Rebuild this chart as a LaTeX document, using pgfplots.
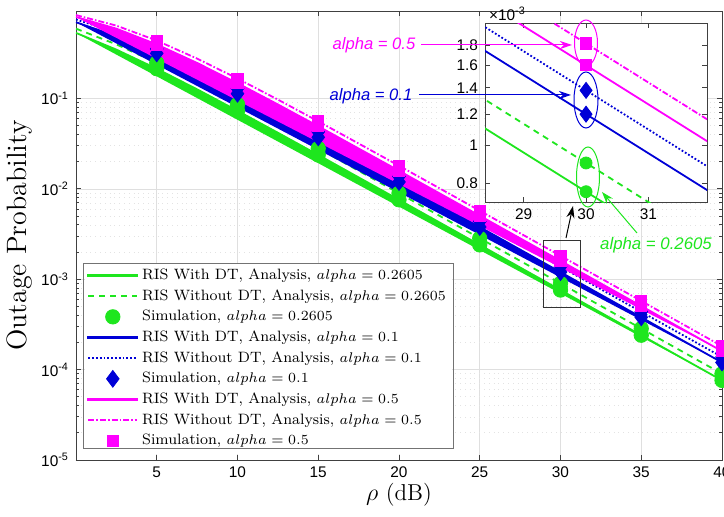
\documentclass[border=0pt]{standalone}
\usepackage{pgfplots}
\pgfplotsset{compat=1.18}
\usepackage{pgfplotstable}
\usepackage{fontspec}
\newfontfamily\arial{Liberation Sans}
\usetikzlibrary{arrows.meta}

\definecolor{cgreen}{RGB}{30,230,30}
\definecolor{cblue}{RGB}{0,0,215}
\definecolor{cmag}{RGB}{255,0,255}

% analysis: x, with DT, without DT
\pgfplotstableread{
x     with      without
0     0.5323    0.5934
2.5   0.3478    0.3971
5     0.2136    0.2477
7.5   0.1264    0.1479
10    0.07318   0.08607
12.5  0.04184   0.04935
15    0.02375   0.02806
20    0.007571  0.008960
25    0.002400  0.002842
30    7.597e-4  8.996e-4
35    2.403e-4  2.846e-4
40    7.60e-5   9.00e-5
}\anagreen
\pgfplotstableread{
x     with      without
0     0.6988    0.7484
2.5   0.4907    0.5398
5     0.3158    0.3536
7.5   0.1922    0.2176
10    0.1131    0.1289
12.5  0.06526   0.07467
15    0.03724   0.04270
20    0.01193   0.01371
25    0.003788  0.004354
30    1.199e-3  1.379e-3
35    3.794e-4  4.363e-4
40    1.20e-4   1.38e-4
}\anablue
\pgfplotstableread{
x     with      without
0     0.7981    0.8380
2.5   0.5933    0.6407
5     0.3970    0.4376
7.5   0.2476    0.2765
10    0.1479    0.1664
12.5  0.08605   0.09729
15    0.04934   0.05593
20    0.01587   0.01804
25    0.005047  0.005739
30    1.599e-3  1.818e-3
35    5.058e-4  5.754e-4
40    1.60e-4   1.82e-4
}\anamag
% simulation points
\pgfplotstableread{
x   y
5   0.2136
5   0.2477
10  0.07318
10  0.08607
15  0.02375
15  0.02806
20  0.007571
20  0.008960
25  0.002400
25  0.002842
30  7.597e-4
30  8.996e-4
35  2.403e-4
35  2.846e-4
40  7.6e-5
40  9.0e-5
}\simgreen
\pgfplotstableread{
x   y
5   0.3158
5   0.3536
10  0.1131
10  0.1289
15  0.03724
15  0.04270
20  0.01193
20  0.01371
25  0.003788
25  0.004354
30  1.199e-3
30  1.379e-3
35  3.794e-4
35  4.363e-4
40  1.2e-4
40  1.38e-4
}\simblue
\pgfplotstableread{
x   y
5   0.3970
5   0.4376
10  0.1479
10  0.1664
15  0.04934
15  0.05593
20  0.01587
20  0.01804
25  0.005047
25  0.005739
30  1.599e-3
30  1.818e-3
35  5.058e-4
35  5.754e-4
40  1.6e-4
40  1.82e-4
}\simmag

\pgfplotsset{
  tickfont/.style={font=\arial\fontsize{7.7}{9}\selectfont},
  simleg/.style={legend image code/.code={\draw[##1] plot coordinates {(0.43cm,0cm)};}},
  % solid samples as a thin filled bar
  solidleg/.style={legend image code/.code={\fill[##1] (0cm,-0.45pt) rectangle (0.86cm,0.45pt);}},
}

\begin{document}
\begin{tikzpicture}
\useasboundingbox (0,0) rectangle (362pt,-258.5pt);

% main axis
\begin{axis}[
  at={(38pt,-230pt)}, anchor=south west,
  scale only axis, width=323pt, height=224.5pt,
  xmin=0, xmax=40, ymode=log, ymin=1e-5, ymax=0.93,
  xtick={5,10,...,40},
  xticklabels={5,10,15,20,25,30,35,40},
  ytick={1e-5,1e-4,1e-3,1e-2,1e-1},
  yticklabels={10\textsuperscript{-5},10\textsuperscript{-4},10\textsuperscript{-3},10\textsuperscript{-2},10\textsuperscript{-1}},
  ticklabel style={tickfont},
  tick align=inside, major tick length=2.5pt, minor tick length=1.5pt,
  tick style={black!75, line width=0.4pt},
  axis line style={black!75, line width=0.4pt},
  grid=both,
  major grid style={gray!25, line width=0.35pt},
  minor grid style={gray!22, dotted, line width=0.35pt},
  minor x tick num=0,
  xlabel={$\rho$ (dB)},
  ylabel={Outage Probability},
  xlabel style={font=\fontsize{11.5}{13}\selectfont, at={(axis description cs:0.5,-0.078)}, anchor=center},
  ylabel style={font=\fontsize{14}{16}\selectfont, at={(axis description cs:-0.0867,0.5)}, anchor=center},
  legend cell align=left,
  legend style={at={(axis description cs:0.014,0.0134)}, anchor=south west,
    draw=none, fill=white, inner sep=1pt, row sep=-0.5pt,
    font=\fontsize{7.5}{9.5}\selectfont},
  legend image code/.code={\draw[#1] (0cm,0cm) -- (0.86cm,0cm);},
]
\addplot[color=cgreen, fill=cgreen, line width=0.9pt, solidleg] table[x=x, y=with] {\anagreen};
\addplot[color=cgreen, line width=0.9pt, dash pattern=on 3pt off 2.5pt] table[x=x, y=without] {\anagreen};
\addplot[color=cgreen, only marks, mark=*, mark size=3.6pt, simleg] table[x=x, y=y] {\simgreen};
\addplot[color=cblue, fill=cblue, line width=0.9pt, solidleg] table[x=x, y=with] {\anablue};
\addplot[color=cblue, line width=0.9pt, densely dotted] table[x=x, y=without] {\anablue};
\addplot[color=cblue, only marks, mark=diamond*, mark size=4.2pt, simleg] table[x=x, y=y] {\simblue};
\addplot[color=cmag, fill=cmag, line width=0.9pt, solidleg] table[x=x, y=with] {\anamag};
\addplot[color=cmag, line width=0.9pt, dash pattern=on 3pt off 1pt on 0.8pt off 1pt] table[x=x, y=without] {\anamag};
\addplot[color=cmag, only marks, mark=square*, mark size=2.8pt, simleg] table[x=x, y=y] {\simmag};
\legend{RIS With DT{,} Analysis{,} $alpha=0.2605$,
        RIS Without DT{,} Analysis{,} $alpha=0.2605$,
        Simulation{,} $alpha=0.2605$,
        RIS With DT{,} Analysis{,} $alpha=0.1$,
        RIS Without DT{,} Analysis{,} $alpha=0.1$,
        Simulation{,} $alpha=0.1$,
        RIS With DT{,} Analysis{,} $alpha=0.5$,
        RIS Without DT{,} Analysis{,} $alpha=0.5$,
        Simulation{,} $alpha=0.5$}
\end{axis}

% zoomed inset
\begin{axis}[
  at={(242.5pt,-101pt)}, anchor=south west,
  scale only axis, width=111pt, height=89.5pt,
  xmin=28.38, xmax=31.94, ymode=log, ymin=0.715e-3, ymax=2.05e-3,
  xtick={29,30,31},
  ytick={0.8e-3,1e-3,1.2e-3,1.4e-3,1.6e-3,1.8e-3},
  yticklabels={0.8,1,1.2,1.4,1.6,1.8},
  xticklabels={29,30,31},
  ticklabel style={tickfont},
  tick align=inside, major tick length=2.5pt,
  tick style={black!75, line width=0.4pt},
  axis line style={black!75, line width=0.4pt},
  minor y tick num=0, minor tick length=0pt,
  axis background/.style={fill=white},
  clip=true,
]
\addplot[color=cgreen, line width=0.9pt] table[x=x, y=with] {\anagreen};
\addplot[color=cgreen, line width=0.9pt, dash pattern=on 3pt off 2.5pt] table[x=x, y=without] {\anagreen};
\addplot[color=cblue, line width=0.9pt] table[x=x, y=with] {\anablue};
\addplot[color=cblue, line width=0.9pt, densely dotted] table[x=x, y=without] {\anablue};
\addplot[color=cmag, line width=0.9pt] table[x=x, y=with] {\anamag};
\addplot[color=cmag, line width=0.9pt, dash pattern=on 3pt off 1pt on 0.8pt off 1pt] table[x=x, y=without] {\anamag};
\addplot[color=cgreen, only marks, mark=*, mark size=3pt] table[x=x, y=y] {\simgreen};
\addplot[color=cblue, only marks, mark=diamond*, mark size=4pt] table[x=x, y=y] {\simblue};
\addplot[color=cmag, only marks, mark=square*, mark size=2.8pt] table[x=x, y=y] {\simmag};
\end{axis}

% annotations (image pixel units)
\begin{scope}[x=0.5pt, y=-0.5pt, >={Stealth[length=6pt,width=4pt]}]
  \draw[black!55, line width=0.45pt] (83,263) rectangle (453,448);
  \node[font=\arial\fontsize{7.7}{9}\selectfont, anchor=west] at (482,14) {×10\textsuperscript{-3}};
  \draw[black!80, line width=0.4pt] (543,240) rectangle (580,307);
  \draw[black, line width=0.5pt, ->] (566,238) -- (573,206);
  \draw[cmag, line width=0.5pt] (586,43) ellipse [x radius=11.5, y radius=23];
  \draw[cblue, line width=0.5pt] (586,100) ellipse [x radius=12, y radius=28];
  \draw[cgreen, line width=0.5pt] (588,177) ellipse [x radius=11.5, y radius=30];
  \node[cmag, font=\arial\itshape\fontsize{8.3}{10}\selectfont] at (374,45) {alpha = 0.5};
  \draw[cmag, line width=0.5pt, ->] (421,45) -- (572,45);
  \node[cblue, font=\arial\itshape\fontsize{8.3}{10}\selectfont] at (371,96) {alpha = 0.1};
  \draw[cblue, line width=0.5pt, ->] (419,95) -- (571,95);
  \node[cgreen, font=\arial\itshape\fontsize{8.4}{10}\selectfont] at (656,245) {alpha = 0.2605};
  \draw[cgreen, line width=0.5pt, ->] (637,233) -- (602,192);
\end{scope}
\end{tikzpicture}
\end{document}
